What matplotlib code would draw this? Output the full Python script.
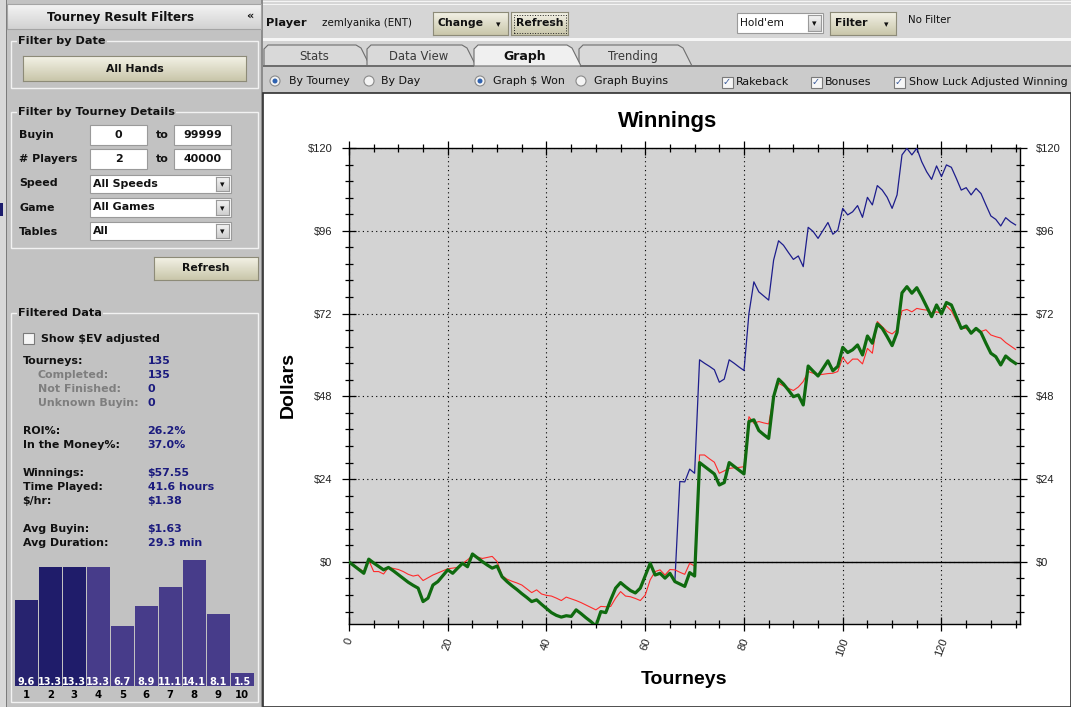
import matplotlib
matplotlib.use('Agg')
import matplotlib.pyplot as plt
import numpy as np
from matplotlib.patches import Rectangle, Ellipse, Polygon
from matplotlib.colors import LinearSegmentedColormap
from matplotlib.ticker import MultipleLocator, FuncFormatter

W, H = 1071, 707

# cumulative winnings per tourney
won = [0.0, -1.1, -2.2, -3.3, 0.8, -0.3, -1.3, -2.3, -1.6, -2.6,
       -3.7, -4.8, -5.9, -6.8, -7.6, -11.5, -10.5, -6.7, -5.7, -4.0,
       -2.3, -3.3, -1.8, -0.4, -1.4, 2.3, 1.2, 0.1, -0.9, -1.8,
       -1.2, -4.3, -5.7, -6.9, -8.0, -9.2, -10.3, -11.5, -11.0, -12.3,
       -13.5, -14.7, -15.5, -16.0, -15.6, -15.8, -13.9, -15.0, -16.2, -17.3,
       -18.6, -14.4, -14.7, -11.0, -7.6, -6.0, -7.2, -8.3, -9.0, -7.6,
       -4.0, -0.4, -3.8, -3.3, -4.7, -3.3, -5.7, -6.4, -7.1, -3.1,
       -4.1, 28.8, 27.7, 26.6, 25.5, 22.3, 23.0, 28.8, 27.7, 26.6,
       25.5, 40.7, 41.2, 38.1, 36.9, 35.8, 47.9, 53.0, 51.6, 49.8,
       47.9, 48.4, 45.5, 56.8, 55.3, 53.9, 56.1, 58.3, 55.4, 56.7,
       62.2, 60.7, 61.5, 62.9, 60.0, 65.5, 63.4, 69.0, 67.7, 65.3,
       62.7, 66.5, 78.0, 79.8, 77.9, 79.5, 76.9, 74.0, 71.1, 74.5,
       71.9, 75.2, 74.5, 71.1, 67.7, 68.4, 66.3, 67.7, 66.5, 63.4,
       60.5, 59.5, 57.1, 59.7, 58.5, 57.55]

# luck adjusted winnings
luck = [0.0, -0.9, -1.9, -2.8, 0.5, -2.8, -2.8, -3.5, -1.6, -1.9,
        -2.2, -2.8, -3.6, -4.1, -3.8, -5.4, -4.6, -3.8, -3.2, -2.6,
        -2.0, -1.8, -1.6, -0.5, 0.6, 1.8, 1.4, 1.0, 1.3, 1.6,
        0.1, -4.0, -5.0, -5.6, -6.1, -6.7, -7.8, -8.9, -8.1, -9.3,
        -9.7, -9.9, -10.5, -11.2, -10.2, -10.7, -11.2, -11.8, -12.5, -13.2,
        -13.9, -12.9, -13.0, -12.9, -10.5, -8.6, -9.9, -10.1, -10.6, -11.2,
        -9.6, -5.2, -2.8, -2.3, -3.8, -2.2, -2.3, -3.0, -3.6, -0.4,
        -1.2, 31.0, 31.0, 29.9, 28.9, 25.7, 26.4, 27.1, 27.3, 27.4,
        27.6, 42.1, 40.2, 40.7, 40.3, 40.0, 47.9, 51.8, 51.0, 50.3,
        49.7, 50.7, 52.3, 55.2, 54.7, 54.2, 54.4, 54.6, 54.7, 55.2,
        59.3, 57.4, 58.8, 58.8, 57.4, 61.9, 60.5, 69.7, 68.2, 66.8,
        66.1, 67.3, 72.8, 73.2, 72.5, 73.5, 73.2, 73.0, 72.1, 72.5,
        72.1, 74.2, 72.8, 70.1, 67.7, 67.7, 66.3, 67.3, 66.8, 67.3,
        65.8, 65.3, 64.9, 63.6, 62.6, 61.6]

# winnings incl. rakeback + bonuses
won_rb = [0.0, -1.1, -2.2, -3.3, 0.8, -0.3, -1.3, -2.3, -1.6, -2.6,
          -3.7, -4.8, -5.9, -6.8, -7.6, -11.5, -10.5, -6.7, -5.7, -4.0,
          -2.3, -3.3, -1.8, -0.4, -1.4, 2.3, 1.2, 0.1, -0.9, -1.8,
          -1.2, -4.3, -5.7, -6.9, -8.0, -9.2, -10.3, -11.5, -11.0, -12.3,
          -13.5, -14.7, -15.5, -16.0, -15.6, -15.8, -13.9, -15.0, -16.2, -17.3,
          -18.6, -14.4, -14.7, -11.0, -7.6, -6.0, -7.2, -8.3, -9.0, -7.6,
          -4.0, -0.4, -3.8, -3.3, -4.7, -3.3, -5.7, 23.3, 23.2, 26.9,
          25.7, 58.6, 57.6, 56.7, 55.7, 52.1, 53.0, 58.6, 57.6, 56.5,
          55.5, 72.0, 81.2, 78.3, 77.1, 75.9, 87.5, 93.1, 91.8, 89.7,
          87.7, 88.7, 85.6, 97.0, 95.8, 93.8, 96.1, 98.4, 95.0, 96.2,
          102.5, 100.6, 101.5, 103.3, 99.9, 105.7, 103.5, 109.1, 107.8, 105.7,
          102.5, 106.4, 118.0, 119.9, 118.0, 119.9, 116.0, 113.1, 110.9, 114.8,
          111.7, 115.1, 114.4, 111.2, 107.8, 108.5, 106.4, 108.3, 106.8, 103.5,
          100.3, 99.3, 97.4, 99.8, 98.6, 97.7]

tourneys = list(range(len(won)))

# finish position histogram
hist_bins = ['1', '2', '3', '4', '5', '6', '7', '8', '9', '10']
hist_vals = [9.6, 13.3, 13.3, 13.3, 6.7, 8.9, 11.1, 14.1, 8.1, 1.5]

stat_rows = [("Tourneys:", "135", 'main'), ("Completed:", "135", 'sub'),
             ("Not Finished:", "0", 'sub'), ("Unknown Buyin:", "0", 'sub'),
             ("ROI%:", "26.2%", 'main'), ("In the Money%:", "37.0%", 'main'),
             ("Winnings:", "$57.55", 'main'), ("Time Played:", "41.6 hours", 'main'),
             ("$/hr:", "$1.38", 'main'),
             ("Avg Buyin:", "$1.63", 'main'), ("Avg Duration:", "29.3 min", 'main')]
stat_y = [361, 375, 389, 403, 431, 445, 473, 487, 501, 529, 543]

plt.rcParams['font.family'] = 'Liberation Sans'
fig = plt.figure(figsize=(W / 100, H / 100), dpi=100)
fig.patch.set_facecolor('white')
UI = 'DejaVu Sans'


def rect(x0, y0, x1, y1, fc, ec='none', lw=0.0, z=-5, ls='-'):
    fig.add_artist(Rectangle((x0 / W, 1 - y1 / H), (x1 - x0) / W, (y1 - y0) / H,
                             transform=fig.transFigure, fc=fc, ec=ec, lw=lw,
                             zorder=z, ls=ls))


def grad(x0, y0, x1, y1, c_top, c_bot, ec=None):
    a = fig.add_axes([x0 / W, 1 - y1 / H, (x1 - x0) / W, (y1 - y0) / H])
    a.imshow(np.linspace(0, 1, 40).reshape(-1, 1), aspect='auto',
             cmap=LinearSegmentedColormap.from_list('g', [c_top, c_bot]))
    a.set_xticks([])
    a.set_yticks([])
    for s in a.spines.values():
        if ec is None:
            s.set_visible(False)
        else:
            s.set_color(ec)
            s.set_linewidth(0.8)
    a.set_zorder(-2)
    return a


def txt(x, y, s, size=7.9, weight='bold', color='#111111', ha='left', va='center', **kw):
    fig.text(x / W, 1 - y / H, s, size=size, weight=weight, color=color,
             ha=ha, va=va, family=UI, **kw)


def button(x0, y0, x1, y1, label, arrow=False):
    grad(x0, y0, x1, y1, '#f3f2e6', '#c9c6aa', ec='#8d8b78')
    if arrow:
        txt(x0 + 5, (y0 + y1) / 2, label, size=7.8)
        txt(x1 - 10, (y0 + y1) / 2 + 1, '▾', size=6.5, weight='normal', ha='center')
    else:
        txt((x0 + x1) / 2, (y0 + y1) / 2, label, ha='center', size=7.8)


def field(x0, y0, x1, y1, label):
    rect(x0, y0, x1, y1, 'white', '#9a9a9a', 0.8, z=-4)
    txt((x0 + x1) / 2, (y0 + y1) / 2, label, ha='center')


def combo(x0, y0, x1, y1, label, bold=True):
    rect(x0, y0, x1, y1, 'white', '#9a9a9a', 0.8, z=-4)
    grad(x1 - 15, y0 + 2, x1 - 2, y1 - 2, '#f4f4f4', '#cfcfcf', ec='#9a9a9a')
    txt(x1 - 8.5, (y0 + y1) / 2 + 1, '▾', size=6.5, weight='normal', ha='center')
    txt(x0 + 3, (y0 + y1) / 2, label, weight='bold' if bold else 'normal',
        size=7.9 if bold else 7.6)


def group(x0, y0, x1, y1, label):
    rect(x0, y0, x1, y1, 'none', '#f2f2f2', 1.0, z=-4)
    txt(x0 + 7, y0, label, size=8.1,
        bbox=dict(fc='#c2c2c2', ec='none', pad=1.0))


def radio(x, y, on):
    fig.add_artist(Ellipse((x / W, 1 - y / H), 10 / W, 10 / H, transform=fig.transFigure,
                           fc='#f4f4f4', ec='#8a8a8a', lw=0.8, zorder=2))
    if on:
        fig.add_artist(Ellipse((x / W, 1 - y / H), 5 / W, 5 / H, transform=fig.transFigure,
                               fc='#2f62b0', ec='none', zorder=3))


def check(x, y, on):
    rect(x - 5.5, y - 5.5, x + 5.5, y + 5.5, '#f6f6f6', '#7a7a7a', 0.8, z=1)
    if on:
        txt(x, y, '✓', size=7, weight='normal', color='#3a5a9a', ha='center')


# ---------------- left panel ----------------
rect(0, 0, 262, 707, '#c2c2c2')
rect(0, 0, 6, 707, '#d8d8d8')
rect(6, 0, 7, 707, '#7c7c7c', z=-4)
rect(261, 0, 262.5, 707, '#8c8c8c', z=-4)
rect(0, 203, 3, 216, '#1c1c6c', z=-4)
grad(7, 4, 261, 29, '#f4f4f4', '#d2d2d2', ec='#a4a4a4')
txt(121, 17, 'Tourney Result Filters', size=8.6, ha='center')
txt(246, 16, '«', size=8)

group(11, 41, 258, 88, 'Filter by Date')
button(23, 56, 246, 81, 'All Hands')

group(11, 112, 258, 248, 'Filter by Tourney Details')
for lab, yy in zip(['Buyin', '# Players', 'Speed', 'Game', 'Tables'], [135, 159, 183, 208, 232]):
    txt(19, yy, lab)
field(90, 125, 147, 145, '0')
txt(162, 135, 'to', ha='center')
field(174, 125, 231, 145, '99999')
field(90, 149, 147, 169, '2')
txt(162, 159, 'to', ha='center')
field(174, 149, 231, 169, '40000')
combo(90, 175, 231, 193, 'All Speeds')
combo(90, 198, 231, 217, 'All Games')
combo(90, 222, 231, 240, 'All')
button(154, 257, 258, 280, 'Refresh')

group(11, 313, 258, 702, 'Filtered Data')
check(28, 338.5, False)
txt(41, 339, 'Show $EV adjusted')
for (lab, val, kind), yy in zip(stat_rows, stat_y):
    if kind == 'sub':
        txt(37.5, yy, lab, color='#7e7e7e')
    else:
        txt(22.5, yy, lab)
    txt(147.5, yy, val, color='#1b1b7e')

# finish-position histogram
hx = fig.add_axes([14.3 / W, 1 - 686 / H, 240 / W, 126 / H])
bar_colors = ['#27236f', '#1f1c6a', '#1f1c6a'] + ['#473c8a'] * 7
hx.bar(range(1, 11), hist_vals, width=0.945, color=bar_colors)
for i, v in enumerate(hist_vals):
    hx.text(i + 1, 0.5, f'{v}', ha='center', va='center', color='white',
            size=7, weight='bold', family=UI)
hx.set_xlim(0.5, 10.5)
hx.set_ylim(0, 14.1)
hx.set_xticks(range(1, 11))
hx.set_xticklabels(hist_bins, family=UI, weight='bold', size=7.3)
hx.set_yticks([])
hx.tick_params(axis='x', length=0, pad=3)
hx.patch.set_alpha(0)
for s in hx.spines.values():
    s.set_visible(False)

# ---------------- top toolbar ----------------
rect(262.5, 0, 1071, 40, '#d6d6d6')
rect(262.5, 1, 1071, 2, '#f4f4f4', z=-4)
rect(262.5, 4, 1071, 5, '#f4f4f4', z=-4)
rect(262.5, 38, 1071, 41, '#f6f6f6', z=-4)
txt(266, 23, 'Player', size=8.2)
txt(322, 23, 'zemlyanika (ENT)', weight='normal', size=7.4)
button(433, 12, 508, 35, 'Change', arrow=True)
button(511, 12, 568, 35, 'Refresh')
rect(513.5, 14.5, 566, 33, 'none', '#222222', 0.7, z=1, ls=':')
combo(737, 13, 823, 33, "Hold'em", bold=False)
button(830, 12, 896, 35, 'Filter', arrow=True)
txt(908, 20, 'No Filter', weight='normal', size=7.4)

# tabs
rect(262.5, 41, 1071, 66, '#d4d4d4')
tabs = [('Stats', 264, 370), ('Data View', 367, 476), ('Graph', 474, 581), ('Trending', 579, 692)]
for name, x0, x1 in tabs:
    active = name == 'Graph'
    pts = [(x0, 66), (x0, 49), (x0 + 4, 45), (x1 - 14, 45), (x1 - 9, 48), (x1, 66)]
    fig.add_artist(Polygon([(p / W, 1 - q / H) for p, q in pts], closed=True,
                           transform=fig.transFigure,
                           fc='#f0f0f0' if active else '#d9d9d9',
                           ec='#6e6e6e', lw=0.8, zorder=-3 if active else -4))
    txt((x0 + x1) / 2 - 3, 56.5, name, size=9 if active else 8.4,
        weight='bold' if active else 'normal', color='#111111' if active else '#3a3a3a',
        ha='center')

# options row
rect(262.5, 66, 1071, 94, '#cbcbcb', z=-3.5)
rect(580, 65.5, 1071, 66.5, '#6e6e6e', z=-3.5)
rect(262.5, 65.5, 474, 66.5, '#6e6e6e', z=-3.5)
radio(275, 81, True)
txt(289, 81, 'By Tourney', weight='normal', size=7.9)
radio(369, 81, False)
txt(381, 81, 'By Day', weight='normal', size=7.9)
radio(480, 81, True)
txt(493, 81, 'Graph $ Won', weight='normal', size=7.9)
radio(581, 81, False)
txt(594, 81, 'Graph Buyins', weight='normal', size=7.9)
check(727, 82, True)
txt(736, 82, 'Rakeback', weight='normal', size=7.9)
check(816, 82, True)
txt(825, 82, 'Bonuses', weight='normal', size=7.9)
check(899, 82, True)
txt(909, 82, 'Show Luck Adjusted Winning', weight='normal', size=7.9)

# chart frame
rect(263, 93, 1071, 707, 'white', '#303030', 1.2, z=-3)

# ---------------- main chart ----------------
ax = fig.add_axes([349 / W, 1 - 624 / H, 670.5 / W, 476 / H])
ax.set_facecolor('#d3d3d3')
ax.plot(tourneys, won_rb, color='#1d1d8c', lw=0.9, zorder=3)
ax.plot(tourneys, luck, color='#ff2b2b', lw=0.8, zorder=4)
ax.plot(tourneys, won, color='#0f6a0f', lw=2.3, zorder=5)
ax.axhline(0, color='black', lw=1.0, zorder=2)
ax.set_xlim(0, 135.8)
ax.set_ylim(-18, 120)
ax.xaxis.set_major_locator(MultipleLocator(20))
ax.xaxis.set_minor_locator(MultipleLocator(5))
ax.yaxis.set_major_locator(MultipleLocator(24))
ax.yaxis.set_minor_locator(MultipleLocator(4.8))
ax.yaxis.set_major_formatter(FuncFormatter(lambda v, p: f'${v:.0f}'))
ax.grid(which='major', color='black', ls=(0, (1, 3)), lw=0.8, zorder=1)
ax.tick_params(which='both', direction='inout', top=True, right=True,
               labelright=True, width=0.9, colors='black', labelsize=8)
ax.tick_params(which='major', length=10)
ax.tick_params(which='minor', length=6)
ax.tick_params(axis='y', pad=7, labelcolor='#222222')
ax.tick_params(axis='x', labelrotation=70, pad=4, labelcolor='#222222')
for lab in ax.get_xticklabels():
    lab.set_ha('center')
for s in ax.spines.values():
    s.set_linewidth(1.0)

fig.text(668 / W, 1 - 121 / H, 'Winnings', size=16, weight='bold', ha='center', va='center')
fig.text(288 / W, 1 - 385 / H, 'Dollars', size=14, weight='bold', ha='center', va='center',
         rotation=90)
fig.text(684 / W, 1 - 680 / H, 'Tourneys', size=14, weight='bold', ha='center', va='center')

fig.savefig('out.png', dpi=100)
